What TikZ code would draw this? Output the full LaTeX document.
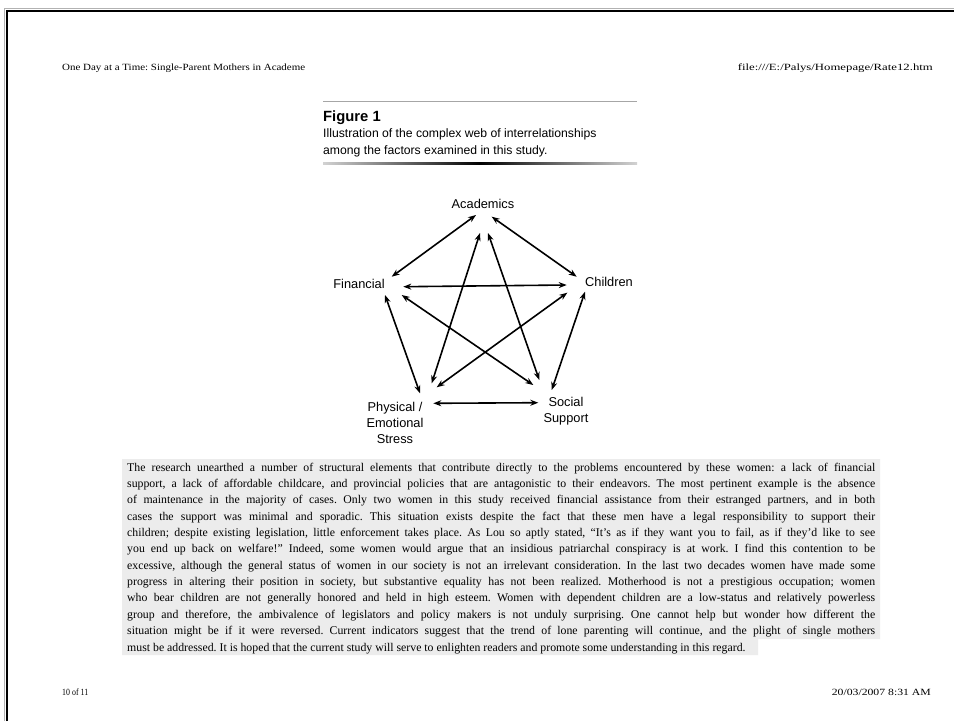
\documentclass[tikz,border=0pt]{standalone}
\usepackage{fontspec}
\setmainfont{Liberation Serif}
\setsansfont{Liberation Sans}
\usetikzlibrary{arrows.meta}
\newcommand{\fitw}[2]{\resizebox{#1}{\height}{#2}}
\newcommand{\jline}[1]{\makebox[748pt][s]{#1}}
\frenchspacing
\begin{document}
\begin{tikzpicture}[x=1pt,y=-1pt,
  lbl/.style={font=\sffamily\fontsize{12.8}{15.8}\selectfont, inner sep=0pt, align=center},
  link/.style={{Stealth[length=8pt,width=6pt]}-{Stealth[length=8pt,width=6pt]}, line width=1.6pt},
  para/.style={anchor=base west, inner sep=0pt, font=\frenchspacing\fontsize{11.8}{14}\selectfont},
  hdr/.style={inner sep=0pt, font=\fontsize{9.5}{12}\selectfont},
  captext/.style={anchor=west, inner sep=0pt, font=\sffamily\fontsize{12.2}{14}\selectfont}]
\useasboundingbox (0,0) rectangle (954,721);
\fill[white] (0,0) rectangle (954,721);
% page frame
\draw[gray!60, line width=0.8pt] (4.5,721) -- (4.5,8.5) -- (954,8.5);
\draw[line width=2pt] (7,721) -- (7,11) -- (954,11);
% header
\node[hdr, anchor=west] (hl) at (62,68) {\fitw{243pt}{One Day at a Time: Single-Parent Mothers in Academe}};
\node[hdr, anchor=east] (hr) at (933,68) {\fitw{195pt}{file:///E:/Palys/Homepage/Rate12.htm}};
% figure caption
\draw[gray!70, line width=1pt] (323,101) -- (637,101);
\node[anchor=west, inner sep=0pt, font=\sffamily\bfseries\fontsize{14.8}{16}\selectfont] (fig) at (323,118) {Figure 1};
\node[captext] (cap1) at (323,134) {Illustration of the complex web of interrelationships};
\node[captext] (cap2) at (323,151) {among the factors examined in this study.};
\shade[left color=gray!35, right color=gray!35, middle color=black] (323,162) rectangle (637,164.5);
% diagram
\node[lbl] (acad) at (483,204) {Academics};
\node[lbl] (fin) at (359,284) {Financial};
\node[lbl] (chi) at (609,282) {Children};
\node[lbl] (phy) at (395,423) {Physical /\\Emotional\\Stress};
\node[lbl] (soc) at (566,411.5) {Social\\Support};
\coordinate (aF) at (476,215);     \coordinate (fA) at (391.7,276.7);
\coordinate (aC) at (491.7,216.7); \coordinate (cA) at (576.7,276.7);
\coordinate (aP) at (480,233);     \coordinate (pA) at (431.7,383.3);
\coordinate (aS) at (488,233);     \coordinate (sA) at (539.3,380);
\coordinate (fC) at (403.3,286.7); \coordinate (cF) at (566.7,285);
\coordinate (fS) at (401.7,295);   \coordinate (sF) at (533.3,385);
\coordinate (cP) at (567.3,292.7); \coordinate (pC) at (436.7,387.3);
\coordinate (fP) at (385,295);     \coordinate (pF) at (420,393.3);
\coordinate (cS) at (585,291.7);   \coordinate (sC) at (551.7,390);
\coordinate (pS) at (433.3,403.3); \coordinate (sP) at (538.3,402.7);
\draw[link] (aF) -- (fA);
\draw[link] (aC) -- (cA);
\draw[link] (aP) -- (pA);
\draw[link] (aS) -- (sA);
\draw[link] (fC) -- (cF);
\draw[link] (fS) -- (sF);
\draw[link] (cP) -- (pC);
\draw[link] (fP) -- (pF);
\draw[link] (cS) -- (sC);
\draw[link] (pS) -- (sP);
% paragraph
\fill[gray!15] (122,459) -- (880,459) -- (880,639) -- (758,639) -- (758,655) -- (122,655) -- cycle;
\node[para] (l1) at (127,471) {\jline{The research unearthed a number of structural elements that contribute directly to the problems encountered by these women: a lack of financial}};
\node[para] (l2) at (127,487.4) {\jline{support, a lack of affordable childcare, and provincial policies that are antagonistic to their endeavors. The most pertinent example is the absence}};
\node[para] (l3) at (127,503.7) {\jline{of maintenance in the majority of cases. Only two women in this study received financial assistance from their estranged partners, and in both}};
\node[para] (l4) at (127,520.1) {\jline{cases the support was minimal and sporadic. This situation exists despite the fact that these men have a legal responsibility to support their}};
\node[para] (l5) at (127,536.4) {\jline{children; despite existing legislation, little enforcement takes place. As Lou so aptly stated, “It's as if they want you to fail, as if they'd like to see}};
\node[para] (l6) at (127,552.8) {\jline{you end up back on welfare!” Indeed, some women would argue that an insidious patriarchal conspiracy is at work. I find this contention to be}};
\node[para] (l7) at (127,569.2) {\jline{excessive, although the general status of women in our society is not an irrelevant consideration. In the last two decades women have made some}};
\node[para] (l8) at (127,585.5) {\jline{progress in altering their position in society, but substantive equality has not been realized. Motherhood is not a prestigious occupation; women}};
\node[para] (l9) at (127,601.9) {\jline{who bear children are not generally honored and held in high esteem. Women with dependent children are a low-status and relatively powerless}};
\node[para] (l10) at (127,618.2) {\jline{group and therefore, the ambivalence of legislators and policy makers is not unduly surprising. One cannot help but wonder how different the}};
\node[para] (l11) at (127,634.6) {\jline{situation might be if it were reversed. Current indicators suggest that the trend of lone parenting will continue, and the plight of single mothers}};
\node[para] (l12) at (127,651) {must be addressed. It is hoped that the current study will serve to enlighten readers and promote some understanding in this regard.};
% footer
\node[hdr, anchor=west] (pg) at (62,692) {\fitw{26pt}{10 of 11}};
\node[hdr, anchor=east] (dt) at (931,692) {\fitw{99pt}{20/03/2007 8:31 AM}};
\end{tikzpicture}
\end{document}
